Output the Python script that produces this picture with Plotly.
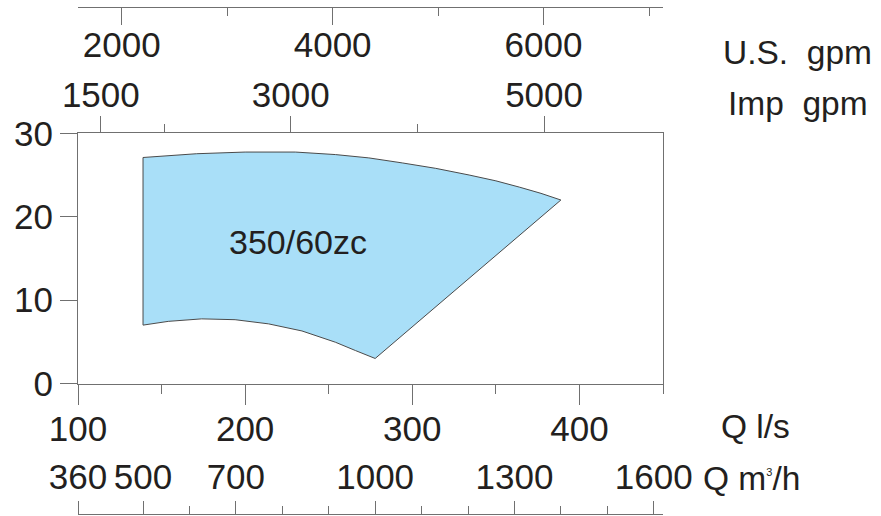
import plotly.graph_objects as go

# ---------------- data ----------------
# operating field of pump 350/60zc, Q in l/s, H in m
top_q = [138.9, 171.0, 200.0, 230.0, 254.0, 274.0, 294.0, 314.0, 334.0, 350.0, 364.0, 377.0, 388.9]
top_h = [27.1, 27.55, 27.75, 27.75, 27.45, 27.05, 26.45, 25.8, 25.0, 24.3, 23.55, 22.8, 22.0]
bot_q = [277.8, 266.0, 254.0, 234.0, 214.0, 194.0, 174.0, 154.0, 138.9]
bot_h = [3.0, 3.95, 4.95, 6.3, 7.15, 7.65, 7.75, 7.45, 7.0]

field_label = "350/60zc"
label_q, label_h = 231.8, 17.0

# axis ranges / ticks
q_range = [100, 450]
q_ticks = [100, 200, 300, 400]
h_range = [0, 30]
h_ticks = [0, 10, 20, 30]
m3h_ticks = [360, 500, 700, 1000, 1300, 1600]
m3h_minor = [600, 800, 900, 1100, 1200, 1400, 1500]
usgpm_ticks = [2000, 4000, 6000]
usgpm_minor = [3000, 5000, 7000]
impgpm_ticks = [1500, 3000, 5000]
impgpm_minor = [2000, 4000]

# unit conversions from l/s
M3H = 3.6
USGPM = 15.8503
IMPGPM = 13.1981

FONT = "Liberation Sans, Arial, sans-serif"
TXT = "#231f20"
AX = "#707070"
FS = 35
FS_ANN = 33.5

poly_q = top_q + bot_q
poly_h = top_h + bot_h

fig = go.Figure()
fig.add_trace(go.Scatter(
    x=poly_q + [poly_q[0]], y=poly_h + [poly_h[0]],
    mode="lines", fill="toself", fillcolor="#a9dff8",
    line=dict(color="#4a4a4a", width=1), hoverinfo="skip", showlegend=False))

W, H = 881, 516
ml, mr, mt, mb = 78, 218, 7, 2
ph = H - mt - mb
y_top_px, y_bot_px = 133.3, 383.5
dom = [(H - mb - y_bot_px) / ph, (H - mb - y_top_px) / ph]

def py(ypx):
    return (H - mb - ypx) / ph

def px(xpx):
    return (xpx - ml) / (W - ml - mr)

tickfont = dict(family=FONT, size=FS, color=TXT)

fig.update_layout(
    width=W, height=H,
    margin=dict(l=ml, r=mr, t=mt, b=mb, autoexpand=False),
    paper_bgcolor="white", plot_bgcolor="white",
    showlegend=False,
    xaxis=dict(
        domain=[0, 1], range=q_range, anchor="y", side="bottom",
        showline=True, linecolor=AX, linewidth=1,
        showgrid=False, zeroline=False,
        tickmode="array", tickvals=q_ticks,
        ticks="outside", ticklen=20, tickcolor=AX, tickwidth=1,
        minor=dict(dtick=50, tick0=100, ticks="outside", ticklen=9, tickcolor=AX, showgrid=False),
        tickfont=tickfont, automargin=False, ticklabelstandoff=-6),
    yaxis=dict(
        domain=dom, range=h_range, anchor="x",
        showline=True, linecolor=AX, linewidth=1, mirror=True,
        showgrid=False, zeroline=False,
        tickmode="array", tickvals=h_ticks,
        ticks="outside", ticklen=17, tickcolor=AX, tickwidth=1,
        tickfont=tickfont, automargin=False, ticklabelstandoff=0),
    xaxis2=dict(
        overlaying="x", anchor="free", position=0, side="top",
        range=[q_range[0] * M3H, q_range[1] * M3H],
        showline=True, linecolor=AX, linewidth=1,
        showgrid=False, zeroline=False,
        tickmode="array", tickvals=m3h_ticks,
        ticks="outside", ticklen=13, tickcolor=AX, tickwidth=1,
        minor=dict(tickmode="array", tickvals=m3h_minor, ticks="outside", ticklen=8,
                   tickcolor=AX, showgrid=False),
        tickfont=tickfont, automargin=False, ticklabelstandoff=-2),
    xaxis3=dict(
        overlaying="x", anchor="free", position=1, side="bottom",
        range=[q_range[0] * USGPM, q_range[1] * USGPM],
        showline=True, linecolor=AX, linewidth=1,
        showgrid=False, zeroline=False,
        tickmode="array", tickvals=usgpm_ticks,
        ticks="outside", ticklen=17, tickcolor=AX, tickwidth=1,
        minor=dict(tickmode="array", tickvals=usgpm_minor, ticks="outside", ticklen=8,
                   tickcolor=AX, showgrid=False),
        tickfont=tickfont, automargin=False, ticklabelstandoff=-10),
    xaxis4=dict(
        overlaying="x", anchor="y", side="top",
        range=[q_range[0] * IMPGPM, q_range[1] * IMPGPM],
        showline=True, linecolor=AX, linewidth=1,
        showgrid=False, zeroline=False,
        tickmode="array", tickvals=impgpm_ticks,
        ticks="outside", ticklen=16, tickcolor=AX, tickwidth=1,
        minor=dict(tickmode="array", tickvals=impgpm_minor, ticks="outside", ticklen=8,
                   tickcolor=AX, showgrid=False),
        tickfont=tickfont, automargin=False, ticklabelstandoff=-5),
)

# dummy traces so the extra axes are drawn
for ax in ["x2", "x3", "x4"]:
    fig.add_trace(go.Scatter(x=[None], y=[None], xaxis=ax, yaxis="y",
                             showlegend=False, hoverinfo="skip"))

ann_font = dict(family=FONT, size=FS_ANN, color=TXT)
fig.add_annotation(x=label_q, y=label_h, xref="x", yref="y", text=field_label,
                   showarrow=False, font=dict(family=FONT, size=34, color=TXT),
                   xanchor="center", yanchor="middle")
fig.add_annotation(x=px(719), y=py(426), xref="paper", yref="paper", text="Q l/s",
                   showarrow=False, font=ann_font, xanchor="left", yanchor="middle")
fig.add_annotation(x=px(701), y=py(478), xref="paper", yref="paper",
                   text="Q m<sup><span style='font-size:11px'>3</span></sup>/h",
                   showarrow=False, font=ann_font, xanchor="left", yanchor="middle")
fig.add_annotation(x=px(721), y=py(52), xref="paper", yref="paper", text="U.S.  gpm",
                   showarrow=False, font=ann_font, xanchor="left", yanchor="middle")
fig.add_annotation(x=px(726), y=py(104), xref="paper", yref="paper", text="Imp  gpm",
                   showarrow=False, font=ann_font, xanchor="left", yanchor="middle")

fig.write_html("out.html", config={"displayModeBar": False},
               post_script="document.body.style.margin='0px';")
